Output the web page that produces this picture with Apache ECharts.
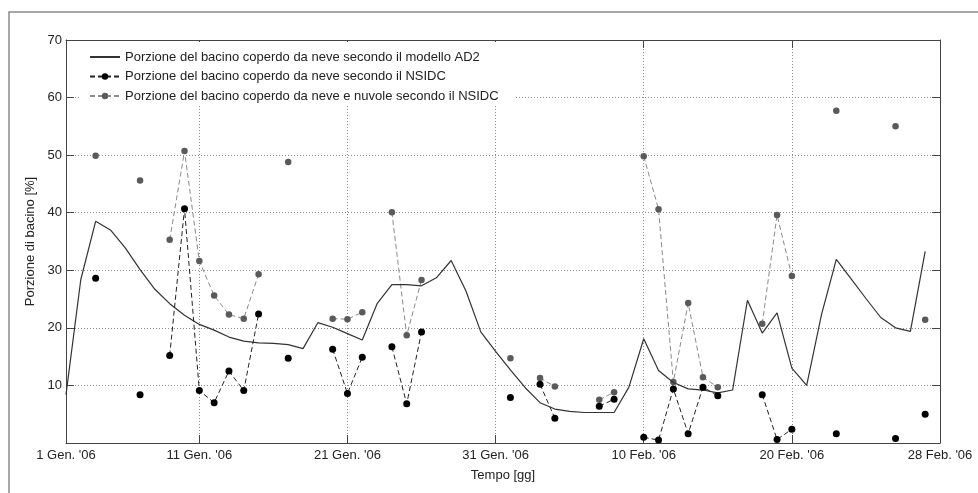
<!DOCTYPE html>
<html>
<head>
<meta charset="utf-8">
<title>Copertura nevosa del bacino</title>
<script src="https://cdn.jsdelivr.net/npm/echarts@6/dist/echarts.min.js"></script>
<style>
  html, body { margin: 0; padding: 0; background: #fff; }
  #chart { width: 978px; height: 493px; }
</style>
</head>
<body>
<div id="chart"></div>
<script>
// posizione dei tick sull'asse dei tempi (indice del giorno) e relative etichette
const tickPos = [0, 9, 19, 29, 39, 49, 59]
const tickLabels = ["1 Gen. '06", "11 Gen. '06", "21 Gen. '06", "31 Gen. '06", "10 Feb. '06", "20 Feb. '06", "28 Feb. '06"]

// modello AD2 (linea continua), un valore al giorno
const ad2 = [8.4, 28.4, 38.5, 37.0, 33.9, 30.1, 26.7, 24.2, 22.2, 20.6,
  19.6, 18.4, 17.7, 17.4, 17.3, 17.1, 16.4, 20.9, 20.1, 19.0,
  17.9, 24.2, 27.5, 27.5, 27.3, 28.7, 31.7, 26.4, 19.3, 15.9,
  12.7, 9.6, 7.0, 5.9, 5.5, 5.3, 5.3, 5.3, 9.7, 18.1,
  12.6, 10.5, 9.4, 9.2, 8.7, 9.2, 24.8, 19.1, 22.6, 13.0,
  10.0, 22.3, 31.9, 28.5, 25.1, 21.8, 20.0, 19.4, 33.3]

// NSIDC neve (null = dato mancante)
const nsidcNeve = [null, null, 28.6, null, null, 8.4, null, 15.2, 40.7, 9.1,
  7.0, 12.5, 9.1, 22.4, null, 14.7, null, null, 16.3, 8.6,
  14.9, null, 16.7, 6.8, 19.3, null, null, null, null, null,
  7.9, null, 10.2, 4.3, null, null, 6.4, 7.6, null, 1.0,
  0.5, 9.4, 1.6, 9.7, 8.2, null, null, 8.4, 0.6, 2.4,
  null, null, 1.6, null, null, null, 0.8, null, 5.0]

// NSIDC neve + nuvole
const nsidcNuvole = [null, null, 49.9, null, null, 45.6, null, 35.3, 50.7, 31.6,
  25.6, 22.3, 21.6, 29.3, null, 48.8, null, null, 21.6, 21.5,
  22.7, null, 40.1, 18.7, 28.3, null, null, null, null, null,
  14.7, null, 11.3, 9.8, null, null, 7.5, 8.8, null, 49.8,
  40.6, 10.6, 24.3, 11.4, 9.7, null, null, 20.7, 39.6, 29.0,
  null, null, 57.7, null, null, null, 55.0, null, 21.4]

const seriesNames = [
  'Porzione del bacino coperdo da neve secondo il modello AD2',
  'Porzione del bacino coperdo da neve secondo il NSIDC',
  'Porzione del bacino coperdo da neve e nuvole secondo il NSIDC',
]

const toPairs = (arr) => arr.map((v, i) => [i, v])

const font = 'Liberation Sans, Arial, sans-serif'
const fontSize = 13
const gridLine = { show: true, lineStyle: { color: '#8c8c8c', width: 1, type: [1, 2] } }
const axisLine = { show: true, onZero: false, lineStyle: { color: '#444', width: 1 } }
const tick = { show: true, inside: true, length: 8, lineStyle: { color: '#444' } }

const chart = echarts.init(document.getElementById('chart'), null, { renderer: 'canvas' })

const option = {
  animation: false,
  backgroundColor: '#fff',
  textStyle: { fontFamily: font },
  graphic: [
    {
      type: 'rect',
      silent: true,
      shape: { x: 9, y: 12, width: 1000, height: 520 },
      style: { fill: 'none', stroke: '#8a8a8a', lineWidth: 1.5 },
    },
  ],
  legend: {
    orient: 'vertical',
    left: 79,
    top: 42,
    padding: [8, 16, 3, 10],
    backgroundColor: '#fff',
    itemWidth: 30,
    itemHeight: 8,
    itemGap: 5.5,
    textStyle: { fontSize: fontSize, color: '#222', fontFamily: font, lineHeight: 14 },
    data: [
      { name: seriesNames[0], itemStyle: { opacity: 0 } },
      { name: seriesNames[1] },
      { name: seriesNames[2] },
    ],
  },
  grid: { left: 66, right: 38, top: 40, bottom: 50 },
  xAxis: [
    {
      type: 'value',
      min: 0,
      max: 59,
      name: 'Tempo [gg]',
      nameLocation: 'middle',
      nameGap: 26,
      nameTextStyle: { fontSize: fontSize, color: '#222' },
      axisLine: axisLine,
      axisTick: { ...tick, customValues: tickPos },
      axisLabel: {
        customValues: tickPos,
        margin: 6,
        fontSize: fontSize,
        color: '#222',
        showMinLabel: true,
        showMaxLabel: true,
        formatter: (v) => tickLabels[tickPos.indexOf(Math.round(v))] || '',
      },
      splitLine: gridLine,
    },
    {
      type: 'value',
      position: 'top',
      min: 0,
      max: 59,
      axisLine: axisLine,
      axisTick: { ...tick, customValues: tickPos },
      axisLabel: { show: false },
      splitLine: { show: false },
    },
  ],
  yAxis: [
    {
      type: 'value',
      min: 0,
      max: 70,
      interval: 10,
      name: 'Porzione di bacino [%]',
      nameLocation: 'middle',
      nameGap: 25,
      nameTextStyle: { fontSize: fontSize, color: '#222' },
      axisLine: axisLine,
      axisTick: tick,
      axisLabel: { margin: 4, fontSize: fontSize, color: '#222', formatter: (v) => (v === 0 ? '' : v) },
      splitLine: gridLine,
    },
    {
      type: 'value',
      position: 'right',
      min: 0,
      max: 70,
      interval: 10,
      axisLine: axisLine,
      axisTick: tick,
      axisLabel: { show: false },
      splitLine: { show: false },
    },
  ],
  series: [
    {
      name: seriesNames[0],
      type: 'line',
      data: toPairs(ad2),
      symbol: 'none',
      lineStyle: { color: '#333', width: 1.2 },
      itemStyle: { color: '#333' },
      z: 3,
    },
    {
      name: seriesNames[1],
      type: 'line',
      data: toPairs(nsidcNeve),
      connectNulls: false,
      showAllSymbol: true,
      symbol: 'circle',
      symbolSize: 7,
      lineStyle: { color: '#222', width: 1, type: [5, 3] },
      itemStyle: { color: '#000' },
      z: 4,
    },
    {
      name: seriesNames[2],
      type: 'line',
      data: toPairs(nsidcNuvole),
      connectNulls: false,
      showAllSymbol: true,
      symbol: 'circle',
      symbolSize: 6.5,
      lineStyle: { color: '#8a8a8a', width: 1, type: [5, 3] },
      itemStyle: { color: '#5a5a5a' },
      z: 2,
    },
  ],
}

chart.setOption(option)
</script>
</body>
</html>
